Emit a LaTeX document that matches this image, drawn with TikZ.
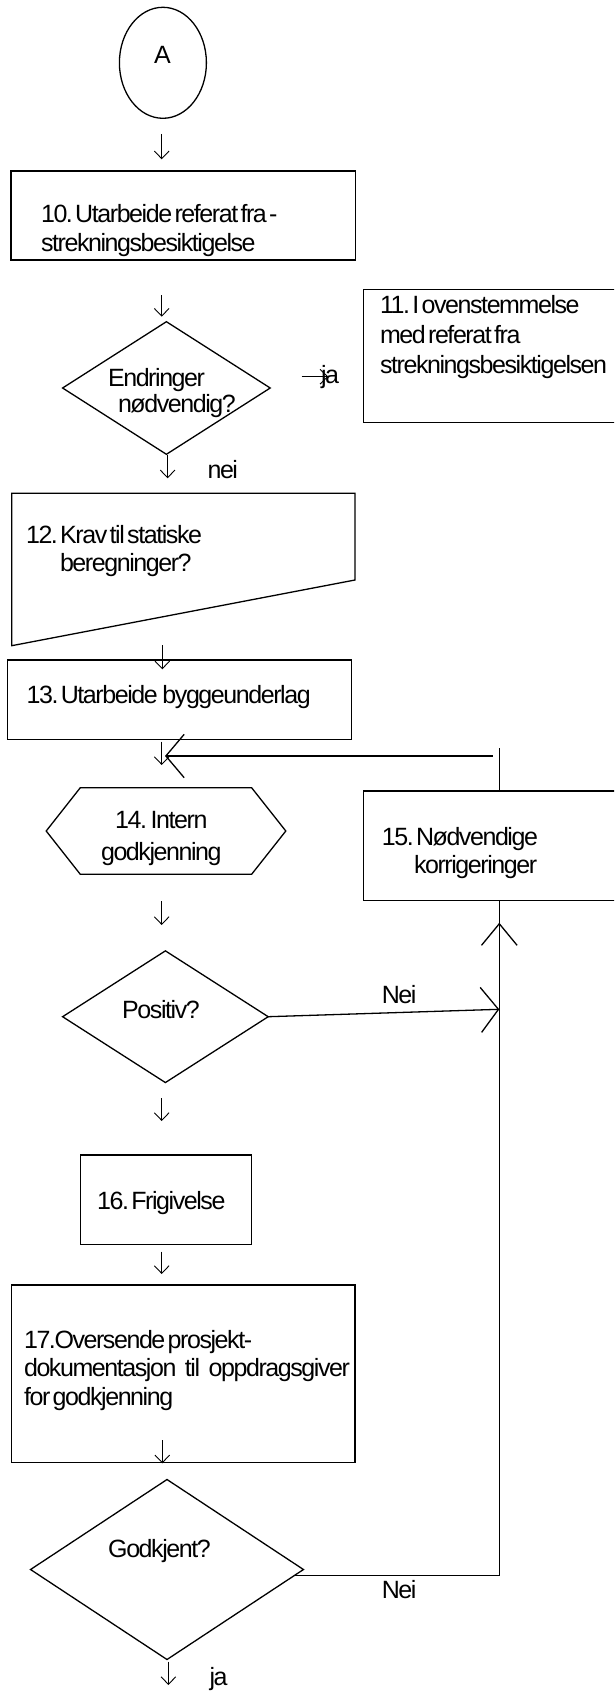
\documentclass[tikz,border=0pt]{standalone}
\usepackage{fontspec}
\setmainfont{Liberation Sans}[LetterSpace=-5.7,WordSpace=0.42]
\usetikzlibrary{arrows.meta,shapes.geometric,calc}
\begin{document}
\begin{tikzpicture}[x=1pt,y=-1pt,
  every node/.style={inner sep=0pt,outer sep=0pt,font=\fontsize{25}{29}\selectfont,
    execute at begin node={\spaceskip=0pt\xspaceskip=0pt\frenchspacing}},
  shp/.style={draw,line width=1.3pt},
  box/.style={shp,rectangle},
  dia/.style={shp,diamond},
  txt/.style={anchor=base west,align=left,text width=#1},
  txt/.default=330pt,
  lbl/.style={anchor=base west},
  clbl/.style={anchor=base},
  glyph/.style={line width=0.9pt,-{Straight Barb[length=7.6pt,width=14.7pt]}},
  conn/.style={line width=1.3pt},
]
\useasboundingbox (0,0) rectangle (614,1691);
\clip (0,0) rectangle (614,1691);

% start connector
\node[shp,ellipse,minimum width=87pt,minimum height=111pt] (A) at (162.9,62.8) {};
\node[clbl] (At) at (162.5,63.3) {A};

% 10
\node[box,minimum width=344.5pt,minimum height=89pt] (b10) at (183.25,215.5) {};
\node[txt] (t10) at (41,222.7) {10. Utarbeide referat fra -\\strekningsbesiktigelse};

% decision 1
\node[dia,minimum width=207.6pt,minimum height=132.6pt] (d1) at (166.4,388) {};
\node[txt] (t1) at (108,386) {Endringer\\[-2.7pt]\hspace*{10pt}nødvendig?};
\coordinate (jaA) at (301.7,376.7);
\coordinate (jaB) at (328.3,376.7);
\draw[glyph] (jaA) -- (jaB);
\node[lbl] (ja1) at (321,383.3) {ja};

% 11
\node[box,minimum width=252.7pt,minimum height=133.4pt] (b11) at (489.65,356) {};
\node[txt=230pt] (t11) at (380,313.3) {11. I ovenstemmelse\\[1.3pt]med referat fra\\[1.3pt]strekningsbesiktigelsen};
\node[lbl] (nei1) at (207.5,478.3) {nei};

% 12
\draw[shp] (11.7,493.3) -- (355,493.3) -- (355,580) -- (11.7,645.7) -- cycle;
\node[txt] (t12) at (26,543.3) {12. Krav til statiske\\[-0.6pt]\hspace*{34pt}beregninger?};

% 13
\node[box,minimum width=343.8pt,minimum height=79.3pt] (b13) at (179.7,699.65) {};
\node[txt] (t13) at (26.6,703.3) {13. Utarbeide\ \ byggeunderlag};

% 14
\draw[shp] (80.3,787.7) -- (251.6,787.7) -- (285.8,831) -- (251.6,874.3) -- (80.3,874.3) -- (46.2,831) -- cycle;
\node[clbl,align=center,text width=200pt] (t14) at (161.3,828.3) {14. Intern\\[2.7pt]godkjenning};

% 15
\node[box,minimum width=252.7pt,minimum height=109.7pt] (b15) at (489.65,845.85) {};
\node[txt=230pt] (t15) at (381.8,845) {15. Nødvendige\\[-0.7pt]\hspace*{32.2pt}korrigeringer};

% decision 2
\node[dia,minimum width=205.6pt,minimum height=131.7pt] (d2) at (165.4,1016.7) {};
\node[clbl] (tpos) at (161,1018.3) {Positiv?};
\node[lbl] (nei2) at (381.8,1003.3) {Nei};

% 16
\node[box,minimum width=171.5pt,minimum height=89.3pt] (b16) at (166.05,1199.65) {};
\node[lbl] (t16) at (97.1,1209.3) {16. Frigivelse};

% 17
\node[box,minimum width=343.3pt,minimum height=177.3pt] (b17) at (183.35,1373.65) {};
\node[txt] (t17) at (24,1348.3) {17.Oversende prosjekt-\\[-0.5pt]\makebox[326pt][s]{dokumentasjon til oppdragsgiver}\\[-0.5pt]for godkjenning};

% decision 3
\node[dia,minimum width=272.9pt,minimum height=180pt] (d3) at (167,1569.5) {};
\node[clbl] (tgod) at (159.5,1557.3) {Godkjent?};
\node[lbl] (nei3) at (381.8,1598.3) {Nei};
\node[lbl] (ja2) at (209.5,1685) {ja};

% down-arrow glyphs
\foreach \i/\x/\ya/\yb in {1/161.7/134/159.3, 2/161.7/295/316.7, 3/167.6/455/478.3,
  4/162.3/645/669.3, 5/161.7/741.7/765, 6/161.7/901/925, 7/161.7/1098/1121,
  8/161.7/1251.7/1274, 9/162.3/1440/1463.3, 10/168.4/1661.7/1685}{
  \coordinate (g\i a) at (\x,\ya);
  \coordinate (g\i b) at (\x,\yb);
  \draw[glyph] (g\i a) -- (g\i b);
}

% feedback loop
\coordinate (jr) at (492.7,756);
\coordinate (jl) at (165,756);
\coordinate (jt) at (499.3,747.7);
\draw[conn,-{Straight Barb[length=18.3pt,width=43.3pt]}] (jr) -- (jl);
\draw[conn] (b15.north -| jt) -- (jt);
\coordinate (upx) at (499.3,922.7);
\coordinate (rx) at (499.3,1009.3);
\draw[conn,-{Straight Barb[length=17.6pt,width=45pt]}] (d2.east) -- (rx);
\draw[conn,-{Straight Barb[length=21.6pt,width=35.6pt]}] ($(d3.east)!0.068!(d3.south)$) -| (upx);
\draw[conn] (upx) -- (b15.south -| upx);
\end{tikzpicture}
\end{document}
